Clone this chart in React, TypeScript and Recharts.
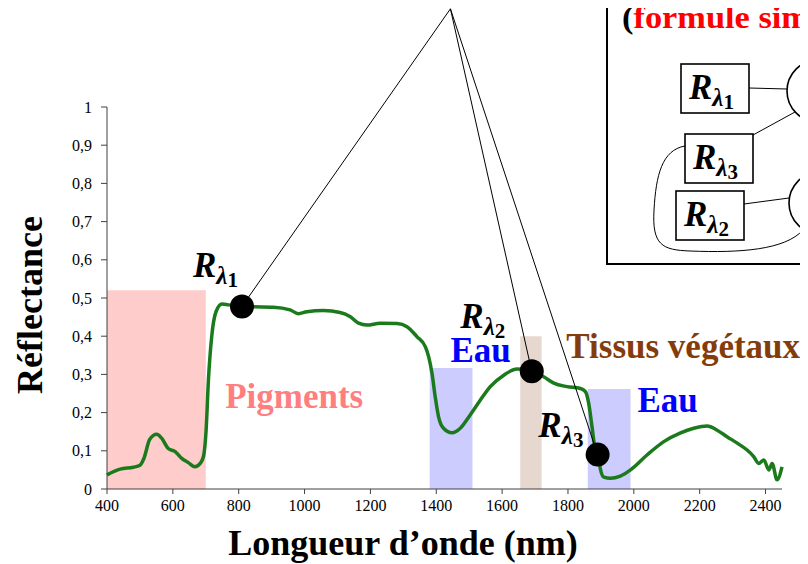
import React from "react";
import {
  ComposedChart,
  Line,
  XAxis,
  YAxis,
  ReferenceArea,
  ReferenceDot,
  ReferenceLine,
} from "recharts";

const SERIF = "'Liberation Serif', 'Times New Roman', serif";

// reflectance spectrum of a leaf
const wavelength = [
  400, 440, 480, 500, 512, 530, 551, 566, 586, 607, 627, 647, 667, 683, 693, 701, 708, 718, 731, 749,
  769, 809, 845, 905, 956, 981, 1007, 1057, 1108, 1139, 1164, 1189, 1230, 1281, 1311, 1341, 1367,
  1377, 1387, 1397, 1407, 1422, 1448, 1473, 1503, 1534, 1564, 1605, 1645, 1676, 1691, 1726, 1757,
  1797, 1838, 1853, 1863, 1873, 1883, 1893, 1898, 1909, 1929, 1959, 1990, 2040, 2091, 2142, 2182,
  2223, 2253, 2283, 2314, 2344, 2364, 2379, 2395, 2410, 2420, 2435, 2450,
];
const reflectance = [
  0.037, 0.052, 0.057, 0.062, 0.08, 0.13, 0.143, 0.133, 0.106, 0.098, 0.08, 0.069, 0.058, 0.067,
  0.085, 0.154, 0.285, 0.399, 0.464, 0.484, 0.482, 0.478, 0.477, 0.476, 0.469, 0.459, 0.464, 0.467,
  0.462, 0.451, 0.434, 0.429, 0.434, 0.433, 0.425, 0.399, 0.372, 0.346, 0.303, 0.24, 0.189, 0.159,
  0.147, 0.159, 0.194, 0.233, 0.268, 0.298, 0.314, 0.312, 0.307, 0.294, 0.277, 0.268, 0.263, 0.255,
  0.224, 0.163, 0.102, 0.089, 0.054, 0.031, 0.028, 0.034, 0.05, 0.089, 0.124, 0.147, 0.159, 0.165,
  0.154, 0.137, 0.12, 0.102, 0.085, 0.067, 0.076, 0.05, 0.067, 0.024, 0.058,
];

const xTicks = [400, 600, 800, 1000, 1200, 1400, 1600, 1800, 2000, 2200, 2400];
const yTicks = [0, 0.1, 0.2, 0.3, 0.4, 0.5, 0.6, 0.7, 0.8, 0.9, 1];

// shaded absorption bands
const bandStart = [400, 1380, 1655, 1860];
const bandEnd = [700, 1510, 1720, 1990];
const bandTop = [0.52, 0.317, 0.4, 0.262];
const bandColor = ["#ffcccc", "#ccccff", "#e6d7cf", "#ccccff"];

// the three picked wavelengths
const pickIndex = ["1", "2", "3"];
const pickWavelength = [810, 1690, 1890];
const pickValue = [0.478, 0.308, 0.09];
const pickLabelX = [661, 1473, 1710];
const pickLabelY = [0.555, 0.421, 0.136];
const apexX = 1443;
const apexY = 1.257;

// band names
const bandText = ["Pigments", "Eau", "Tissus végétaux", "Eau"];
const bandTextColor = ["#ff7f7f", "#0000ff", "#843c0c", "#0000ff"];
const bandTextX = [759, 1443, 1795, 2011];
const bandTextY = [0.212, 0.332, 0.343, 0.202];

const data = wavelength.map((w, i) => ({ w, r: reflectance[i] }));

function RTag({ x, y, sub, size = 35 }: { x: number; y: number; sub: string; size?: number }) {
  return (
    <text x={x} y={y} fontFamily={SERIF} fontWeight="bold" fill="#000">
      <tspan fontSize={size} fontStyle="italic">R</tspan>
      <tspan fontSize={size * 0.72} fontStyle="italic" dy={size * 0.2}>λ</tspan>
      <tspan fontSize={size * 0.6} dy={size * 0.08}>{sub}</tspan>
    </text>
  );
}

const anchorOf = (vb: any) => ({ x: vb.x + vb.width / 2, y: vb.y + vb.height / 2 });

// formula sketch in the top-right corner (page coordinates, x shifted by the body margin)
function Diagram() {
  const o = 8;
  return (
    <svg
      width={800}
      height={564}
      style={{ position: "absolute", left: 0, top: 0, pointerEvents: "none" }}
    >
      <rect x={607 - o} y={-10} width={230} height={274} fill="#fff" stroke="#000" strokeWidth={2} />
      <text
        x={622 - o}
        y={28}
        fontFamily={SERIF}
        fontWeight="bold"
        fontSize={31}
        textLength={188}
        lengthAdjust="spacingAndGlyphs"
      >
        <tspan fill="#000">(</tspan>
        <tspan fill="#ff0000">formule sim</tspan>
      </text>
      <g fill="#fff" stroke="#000" strokeWidth={1.6}>
        <rect x={681 - o} y={64} width={68} height={49} />
        <rect x={685 - o} y={134} width={68} height={49} />
        <rect x={676 - o} y={191} width={68} height={49} />
        <circle cx={818 - o} cy={91} r={31} />
        <circle cx={820 - o} cy={203} r={31} />
      </g>
      <g stroke="#000" strokeWidth={1} fill="none">
        <line x1={749 - o} y1={88} x2={787 - o} y2={89} />
        <line x1={753 - o} y1={135} x2={795 - o} y2={112} />
        <line x1={744 - o} y1={204} x2={789 - o} y2={198} />
        <path
          d={`M${685 - o},146 C${662 - o},150 ${656 - o},175 ${654 - o},210 C${652 - o},245 ${662 - o},250 ${690 - o},251 C${740 - o},253 ${785 - o},250 ${803 - o},230`}
        />
      </g>
      <RTag x={689 - o} y={99} sub="1" />
      <RTag x={693 - o} y={169} sub="3" />
      <RTag x={684 - o} y={226} sub="2" />
    </svg>
  );
}

export default function App() {
  return (
    <div style={{ position: "relative", width: 800, height: 564, marginTop: -8 }}>
      <ComposedChart
        width={800}
        height={564}
        data={data}
        margin={{ top: 107, right: 26, bottom: 45, left: 54 }}
      >
        <XAxis
          dataKey="w"
          type="number"
          domain={[400, 2450]}
          ticks={xTicks}
          tickSize={5}
          tickMargin={6}
          height={30}
          stroke="#404040"
          tick={{ fill: "#000", fontFamily: SERIF, fontSize: 16 }}
          label={{
            content: () => (
              <text
                x={395}
                y={555}
                textAnchor="middle"
                fontFamily={SERIF}
                fontWeight="bold"
                fontSize={36}
                fill="#000"
              >
                Longueur d’onde (nm)
              </text>
            ),
          }}
        />
        <YAxis
          type="number"
          domain={[0, 1]}
          ticks={yTicks}
          width={45}
          tickSize={6}
          tickMargin={9}
          stroke="#404040"
          tickFormatter={(v: number) => String(v).replace(".", ",")}
          tick={{ fill: "#000", fontFamily: SERIF, fontSize: 16 }}
          label={{
            content: () => (
              <text
                x={22}
                y={305}
                transform="rotate(-90 22 305)"
                textAnchor="middle"
                dominantBaseline="central"
                fontFamily={SERIF}
                fontWeight="bold"
                fontSize={36}
                fill="#000"
              >
                Réflectance
              </text>
            ),
          }}
        />
        {bandStart.map((s, i) => (
          <ReferenceArea
            key={"band" + i}
            x1={s}
            x2={bandEnd[i]}
            y1={0}
            y2={bandTop[i]}
            fill={bandColor[i]}
            fillOpacity={1}
            stroke="none"
            ifOverflow="visible"
          />
        ))}
        {bandText.map((t, i) => (
          <ReferenceDot
            key={"txt" + i}
            x={bandTextX[i]}
            y={bandTextY[i]}
            r={1}
            fill="none"
            stroke="none"
            label={{
              content: (p: any) => {
                const a = anchorOf(p.viewBox);
                return (
                  <text x={a.x} y={a.y} fontFamily={SERIF} fontWeight="bold" fontSize={35} fill={bandTextColor[i]}>
                    {t}
                  </text>
                );
              },
            }}
          />
        ))}
        <Line
          type="monotone"
          dataKey="r"
          stroke="#1b7a1b"
          strokeWidth={3.5}
          dot={false}
          isAnimationActive={false}
        />
        {pickWavelength.map((w, i) => (
          <ReferenceLine
            key={"ptr" + i}
            segment={[
              { x: apexX, y: apexY },
              { x: w, y: pickValue[i] },
            ]}
            stroke="#000"
            strokeWidth={1}
            ifOverflow="visible"
          />
        ))}
        {pickWavelength.map((w, i) => (
          <ReferenceDot key={"dot" + i} x={w} y={pickValue[i]} r={12} fill="#000" stroke="none" />
        ))}
        {pickIndex.map((s, i) => (
          <ReferenceDot
            key={"lab" + i}
            x={pickLabelX[i]}
            y={pickLabelY[i]}
            r={1}
            fill="none"
            stroke="none"
            label={{
              content: (p: any) => {
                const a = anchorOf(p.viewBox);
                return <RTag x={a.x} y={a.y} sub={s} />;
              },
            }}
          />
        ))}
      </ComposedChart>
      <Diagram />
    </div>
  );
}
